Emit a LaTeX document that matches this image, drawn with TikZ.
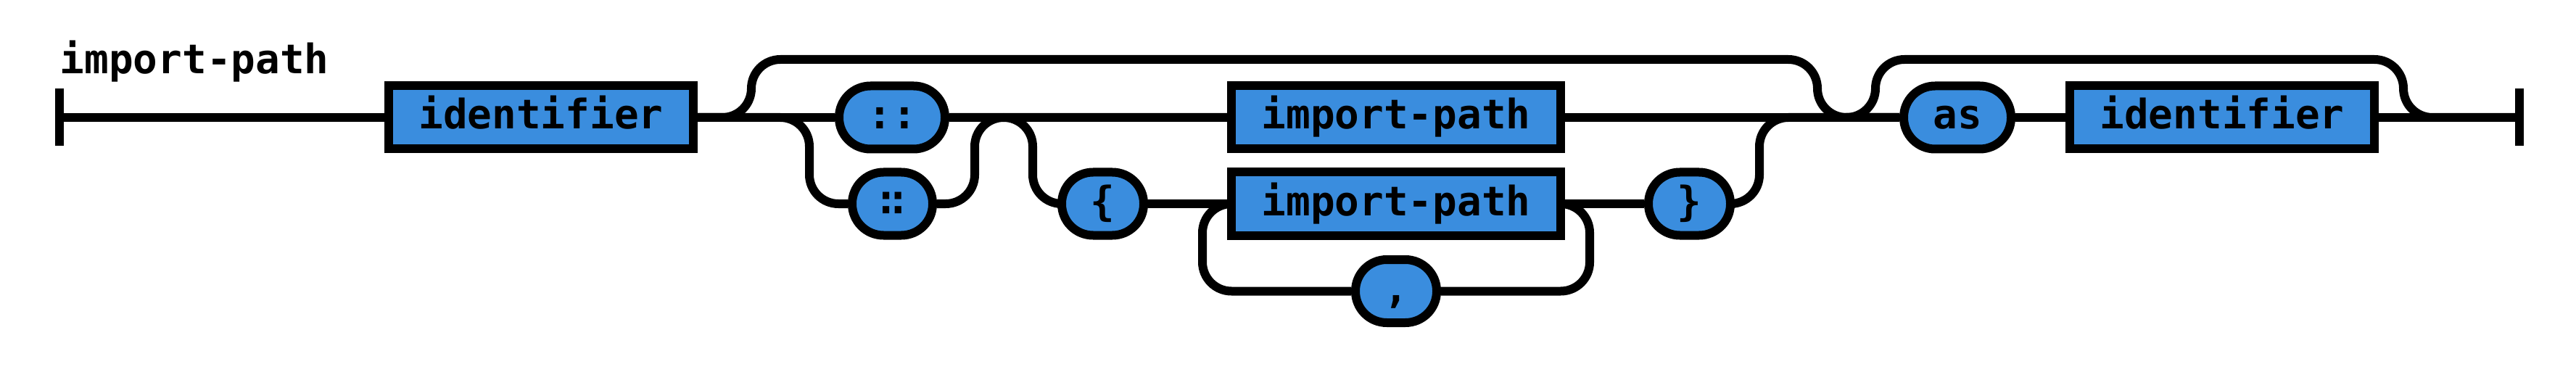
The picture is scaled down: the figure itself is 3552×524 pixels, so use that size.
\documentclass[tikz,border=0pt]{standalone}
\usepackage{fontspec}
\newfontfamily\rrfont{DejaVu Sans Mono}
\newfontfamily\rrsymfont{DejaVu Sans}
\usetikzlibrary{backgrounds}
\definecolor{rrblue}{HTML}{3A8DDE}
\begin{document}
\begin{tikzpicture}[x=0.25pt,y=-0.25pt,
  rrbase/.style={draw=black,line width=3pt,fill=rrblue,inner sep=0pt,
    minimum height=21.75pt,text height=10pt,text depth=2pt,
    font=\fontsize{14}{16}\selectfont\rrfont\bfseries},
  nonterm/.style={rrbase},
  term/.style={rrbase,rounded corners=10.8pt},
  conn/.style={draw=black,line width=3pt,rounded corners=10pt},
  endbar/.style={draw=black,line width=2.9pt}]
\useasboundingbox (0,0) rectangle (3552,524);

\node[anchor=base west,inner sep=0pt,font=\fontsize{14}{16}\selectfont\rrfont\bfseries] (title) at (82,102) {import-path};

\node[nonterm,minimum width=105pt] (id1) at (746,162) {identifier};
\node[term,minimum width=36.5pt] (c1) at (1230,162) {::};
\node[term,minimum width=27.75pt] (c2) at (1230.5,281) {∷};
\node[nonterm,minimum width=113.5pt] (ip1) at (1925,162) {import-path};
\node[term,minimum width=28.25pt] (lb) at (1520.5,281) {\{};
\node[nonterm,minimum width=113.5pt] (ip2) at (1925,281) {import-path};
\node[term,minimum width=28pt] (comma) at (1925,401.5) {,};
\node[term,minimum width=28.25pt] (rb) at (2329.5,281) {\}};
\node[term,minimum width=37pt] (as) at (2699,162) {as};
\node[nonterm,minimum width=105pt] (id2) at (3064,162) {identifier};

\coordinate (start) at (82,162);
\coordinate (finish) at (3474,162);
\coordinate (b1) at (1116,281);
\coordinate (m1) at (1344,162);
\coordinate (b2) at (1424,281);
\coordinate (m2) at (2426,162);
\coordinate (lpL) at (1658,281);
\coordinate (lpR) at (2192,401.5);
\coordinate (t1) at (1036,82);
\coordinate (t1e) at (2506,162);
\coordinate (t2) at (2586,82);
\coordinate (t2e) at (3314,162);
\coordinate (t2s) at (2546,162);

\begin{scope}[on background layer]
  % main line
  \draw[conn] (start) -- (id1.west);
  \draw[conn] (id1.east) -- (c1.west);
  \draw[conn] (c1.east) -- (ip1.west);
  \draw[conn] (ip1.east) -- (as.west);
  \draw[conn] (as.east) -- (id2.west);
  \draw[conn] (id2.east) -- (finish);
  % choice :: / ∷
  \draw[conn] (id1.east) -| (b1) -- (c2.west);
  \draw[conn] (c2.east) -| (m1) -- (ip1.west);
  % brace branch
  \draw[conn] (c1.east) -| (b2) -- (lb.west);
  \draw[conn] (lb.east) -- (ip2.west);
  \draw[conn] (ip2.east) -- (rb.west);
  \draw[conn] (rb.east) -| (m2) -- (as.west);
  % comma loop
  \draw[conn] (ip2.east) -| (lpR) -- (comma.east);
  \draw[conn] (comma.west) -| (lpL) -- (ip2.west);
  % bypasses
  \draw[conn] (id1.east) -| (t1) -| (t1e) -- (as.west);
  \draw[conn] (t2s) -| (t2) -| (t2e) -- (finish);
\end{scope}

\draw[endbar] (82,122) -- (82,201);
\draw[endbar] (3474,122) -- (3474,201);
\end{tikzpicture}
\end{document}
